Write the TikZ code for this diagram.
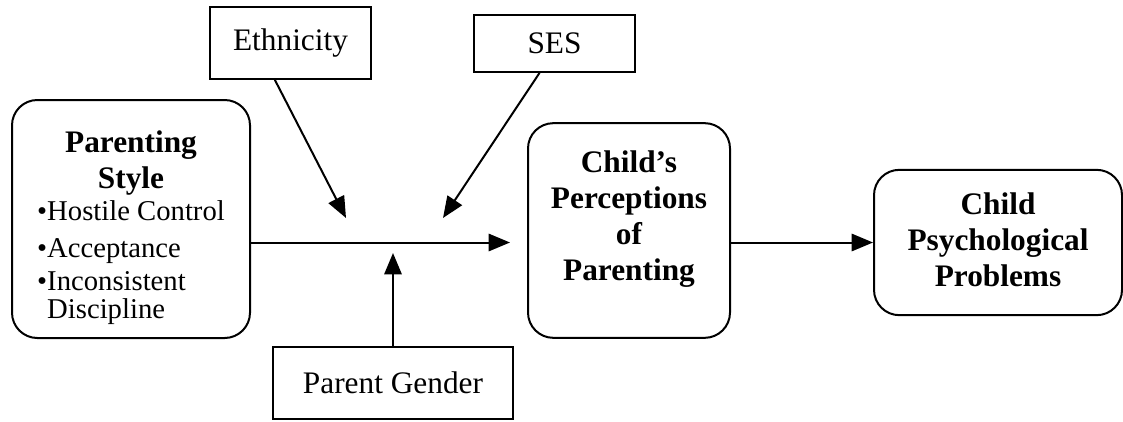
\documentclass[tikz,border=0pt]{standalone}
\usepackage{fontspec}
\setmainfont{Liberation Serif}
\usepackage{tikz}
\usetikzlibrary{positioning,arrows.meta}
\tikzstyle{RoundBox}=[draw=black, rounded corners=19pt, line width=1.5pt]
\tikzstyle{FactorBox}=[draw=black, line width=1.3pt, inner sep=0pt]
\tikzstyle{BoldText}=[align=center, font=\fontsize{23.5}{27}\selectfont\bfseries, inner sep=0pt]
\tikzstyle{Link}=[line width=1.5pt, -{Triangle[length=16pt,width=13pt]}]

\begin{document}
\begin{tikzpicture}[x=0.75pt, y=-0.75pt, font=\fontsize{23.5}{27}\selectfont]
      \useasboundingbox (0,0) rectangle (1123,421);
      % main boxes
      \node[RoundBox, minimum width=178.5pt, minimum height=178.5pt] (stylebox) at (131,219) {};
      \node[RoundBox, minimum width=151.5pt, minimum height=161pt] (percbox) at (629,230.5) {};
      \node[RoundBox, minimum width=186pt, minimum height=109pt] (psychbox) at (998,242.5) {};
      \node[BoldText] (style) at (131,230) {Parenting\\Style\\[-1pt]
        \mdseries\fontsize{21.5}{27}\selectfont
        \begin{tabular}{@{}l@{}}\textbullet Hostile Control\\[1pt]
        \textbullet Acceptance\\[-2pt] \textbullet Inconsistent\\[-6pt]
        \phantom{\textbullet}Discipline\end{tabular}};
      \node[BoldText] (perc) at (629,219) {Child’s\\Perceptions\\of\\Parenting};
      \node[BoldText] (psych) at (998,240) {Child\\Psychological\\Problems};
      % moderators
      \node[FactorBox, minimum width=120.75pt, minimum height=54pt] (eth) at (290.5,43) {Ethnicity};
      \node[FactorBox, minimum width=120.75pt, minimum height=42.75pt] (ses) at (554.5,43.5) {SES};
      \node[FactorBox, minimum width=180pt, minimum height=54pt] (gender) at (393,383) {Parent Gender};
      % points on the main path
      \coordinate (link) at (510,242.5);
      \coordinate (ethtip) at (346,218);
      \coordinate (sestip) at (443,218);
      \coordinate (gendertip) at (393,253);
      \draw[Link] (stylebox.east |- psychbox.west) -- (link);
      \draw[Link] (percbox.east |- psychbox.west) -- (psychbox.west);
      \draw[Link] (eth.-113) -- (ethtip);
      \draw[Link] (ses.-117) -- (sestip);
      \draw[Link] (gender.north) -- (gendertip);
\end{tikzpicture}
\end{document}
